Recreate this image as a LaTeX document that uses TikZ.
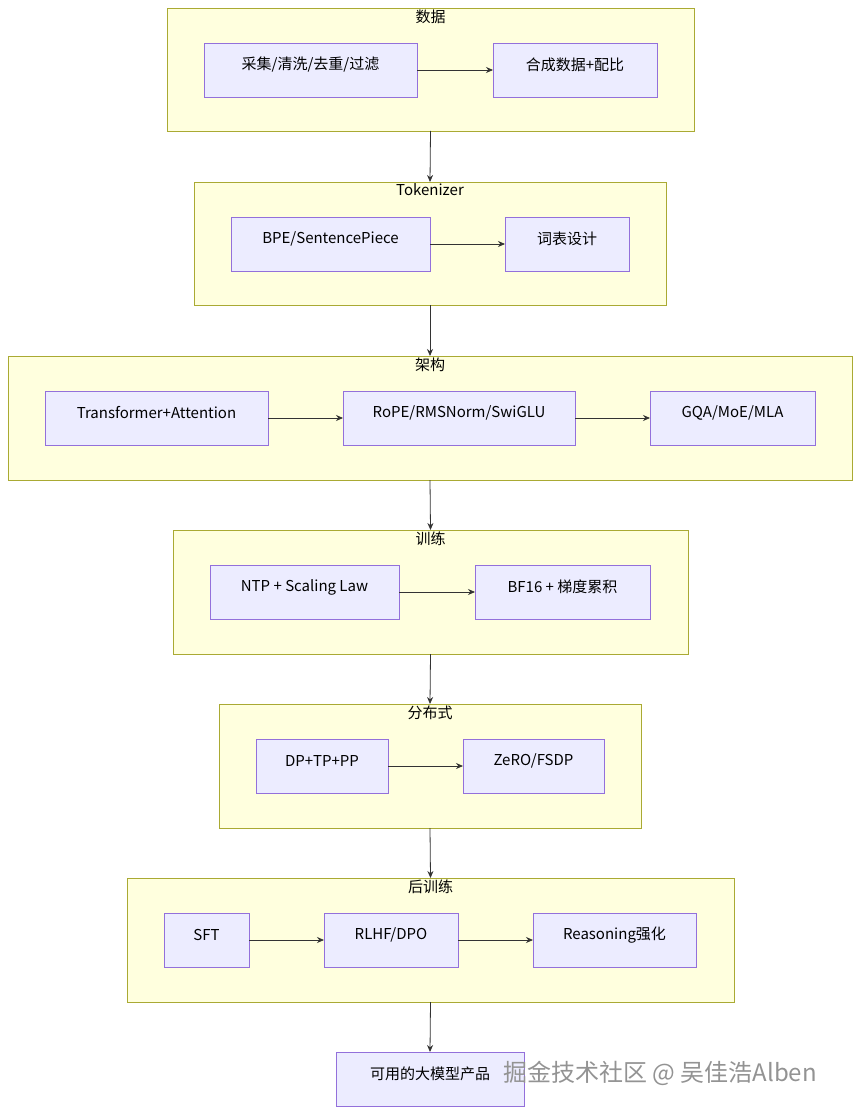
\documentclass[tikz,border=0pt]{standalone}
\usepackage{fontspec}
\setmainfont{Noto Sans CJK SC}
\usetikzlibrary{arrows.meta}
\definecolor{grpfill}{HTML}{FFFFDE}
\definecolor{grpline}{HTML}{AAAA33}
\definecolor{ndfill}{HTML}{ECECFF}
\definecolor{ndline}{HTML}{9370DB}
\definecolor{edge}{HTML}{333333}
\begin{document}
\begin{tikzpicture}[x=1pt,y=-1pt,
  grp/.style={draw=grpline,fill=grpfill,line width=0.8pt},
  gtitle/.style={font=\fontsize{15}{17}\selectfont,text=black,anchor=north},
  nd/.style={draw=ndline,fill=ndfill,line width=0.8pt},
  ntext/.style={font=\fontsize{15}{17}\selectfont,text=black},
  arr/.style={draw=edge,line width=0.8pt,-{Stealth[length=7pt,width=6pt]}}]
\useasboundingbox (0,0) rectangle (861,1115);
\newcommand{\grpbox}[6]{%
  \draw[grp] (#2,#3) rectangle (#4,#5);
  \coordinate (#1t) at ({(#2+#4)/2},#3);
  \coordinate (#1b) at ({(#2+#4)/2},#5);
  \node[gtitle] at ({(#2+#4)/2},#3-2) {#6};}
\newcommand{\ndbox}[6]{%
  \draw[nd] (#2,#3) rectangle (#4,#5);
  \coordinate (#1w) at (#2,{(#3+#5)/2});
  \coordinate (#1e) at (#4,{(#3+#5)/2});
  \coordinate (#1t) at ({(#2+#4)/2},#3);
  \node[ntext] at ({(#2+#4)/2},#3+22) {#6};}
\grpbox{g1}{167}{8}{694}{131}{数据}
\ndbox{a1}{204}{43}{417}{97}{采集/清洗/去重/过滤}
\ndbox{a2}{493}{43}{657}{97}{合成数据+配比}
\grpbox{g2}{194}{182}{666}{305}{Tokenizer}
\ndbox{b1}{231}{217}{430}{271}{BPE/SentencePiece}
\ndbox{b2}{505}{217}{629}{271}{词表设计}
\grpbox{g3}{8}{356}{852}{480}{架构}
\ndbox{c1}{45}{391}{268}{445}{Transformer+Attention}
\ndbox{c2}{343}{391}{575}{445}{RoPE/RMSNorm/SwiGLU}
\ndbox{c3}{650}{391}{815}{445}{GQA/MoE/MLA}
\grpbox{g4}{173}{530}{688}{654}{训练}
\ndbox{d1}{210}{565}{399}{619}{NTP + Scaling Law}
\ndbox{d2}{475}{565}{650}{619}{BF16 + 梯度累积}
\grpbox{g5}{219}{704}{641}{828}{分布式}
\ndbox{e1}{256}{739}{388}{793}{DP+TP+PP}
\ndbox{e2}{463}{739}{604}{793}{ZeRO/FSDP}
\grpbox{g6}{127}{878}{734}{1002}{后训练}
\ndbox{f1}{164}{913}{249}{967}{SFT}
\ndbox{f2}{324}{913}{458}{967}{RLHF/DPO}
\ndbox{f3}{533}{913}{696}{967}{Reasoning强化}
\ndbox{p}{336}{1052}{524}{1106}{可用的大模型产品}
\draw[arr] (a1e) -- (a2w);
\draw[arr] (b1e) -- (b2w);
\draw[arr] (c1e) -- (c2w);
\draw[arr] (c2e) -- (c3w);
\draw[arr] (d1e) -- (d2w);
\draw[arr] (e1e) -- (e2w);
\draw[arr] (f1e) -- (f2w);
\draw[arr] (f2e) -- (f3w);
\draw[arr] (g1b) -- (g2t);
\draw[arr] (g2b) -- (g3t);
\draw[arr] (g3b) -- (g4t);
\draw[arr] (g4b) -- (g5t);
\draw[arr] (g5b) -- (g6t);
\draw[arr] (g6b) -- (pt);
\node[font=\fontsize{24}{28}\selectfont,text=gray!85,anchor=west,inner sep=0pt] at (503,1073) {掘金技术社区 @ 吴佳浩Alben};
\end{tikzpicture}
\end{document}
